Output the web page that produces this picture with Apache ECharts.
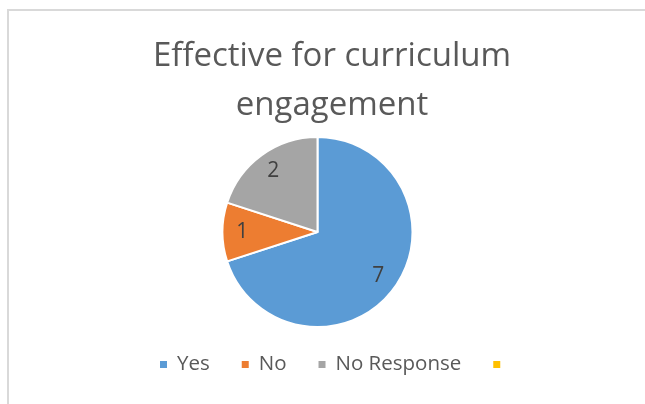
<!DOCTYPE html>
<html>
<head>
<meta charset="utf-8">
<script src="https://cdn.jsdelivr.net/npm/echarts@6/dist/echarts.min.js"></script>
<style>
  html, body { margin: 0; padding: 0; background: #fff; }
  #chart { width: 645px; height: 404px; }
</style>
</head>
<body>
<div id="chart"></div>
<script>
// Survey answers: "Effective for curriculum engagement"
const categories = ['Yes', 'No', 'No Response', ' '];
const counts = [7, 1, 2, null];

const palette = ['#5B9BD5', '#ED7D31', '#A5A5A5', '#FFC000'];
const FONT = '"Open Sans", sans-serif';

const pieCenter = [317.5, 232];
const pieRadius = 95;

const sliceData = categories.map((name, i) => ({
  name: name,
  value: counts[i],
  itemStyle: { color: palette[i] }
}));

// Label ring: same slices, invisible, only used to place the value labels
const labelData = categories.map((name, i) => ({
  name: name,
  value: counts[i],
  label: { show: counts[i] != null }
}));

const chart = echarts.init(document.getElementById('chart'), null, { renderer: 'canvas' });

chart.setOption({
  animation: false,
  backgroundColor: '#ffffff',
  title: {
    text: 'Effective for curriculum\nengagement',
    left: 332,
    textAlign: 'center',
    top: 32,
    padding: 0,
    textStyle: {
      fontFamily: FONT,
      fontSize: 33,
      fontWeight: 'normal',
      color: '#595959',
      lineHeight: 49
    }
  },
  legend: {
    data: categories,
    left: 158,
    top: 354,
    padding: 0,
    orient: 'horizontal',
    icon: 'rect',
    itemWidth: 9,
    itemHeight: 9,
    itemGap: 30,
    selectedMode: false,
    textStyle: {
      fontFamily: FONT,
      fontSize: 20.5,
      color: '#595959',
      padding: [0, 0, 0, 4]
    }
  },
  graphic: [{
    type: 'rect',
    silent: true,
    shape: { x: 8, y: 10, width: 720, height: 520 },
    style: { fill: 'none', stroke: '#d9d9d9', lineWidth: 2 }
  }],
  series: [
    {
      name: 'Responses',
      type: 'pie',
      center: pieCenter,
      radius: [0, pieRadius],
      startAngle: 90,
      clockwise: true,
      avoidLabelOverlap: false,
      label: { show: false },
      labelLine: { show: false },
      itemStyle: { borderColor: '#ffffff', borderWidth: 2 },
      emphasis: { disabled: true },
      data: sliceData
    },
    {
      name: 'Labels',
      type: 'pie',
      center: pieCenter,
      radius: [pieRadius * 0.52, pieRadius],
      startAngle: 90,
      clockwise: true,
      silent: true,
      avoidLabelOverlap: false,
      itemStyle: { color: 'rgba(0,0,0,0)', borderWidth: 0 },
      label: {
        position: 'inside',
        formatter: '{c}',
        fontFamily: FONT,
        fontSize: 21,
        color: '#404040'
      },
      labelLine: { show: false },
      emphasis: { disabled: true },
      data: labelData
    }
  ]
});
</script>
</body>
</html>
